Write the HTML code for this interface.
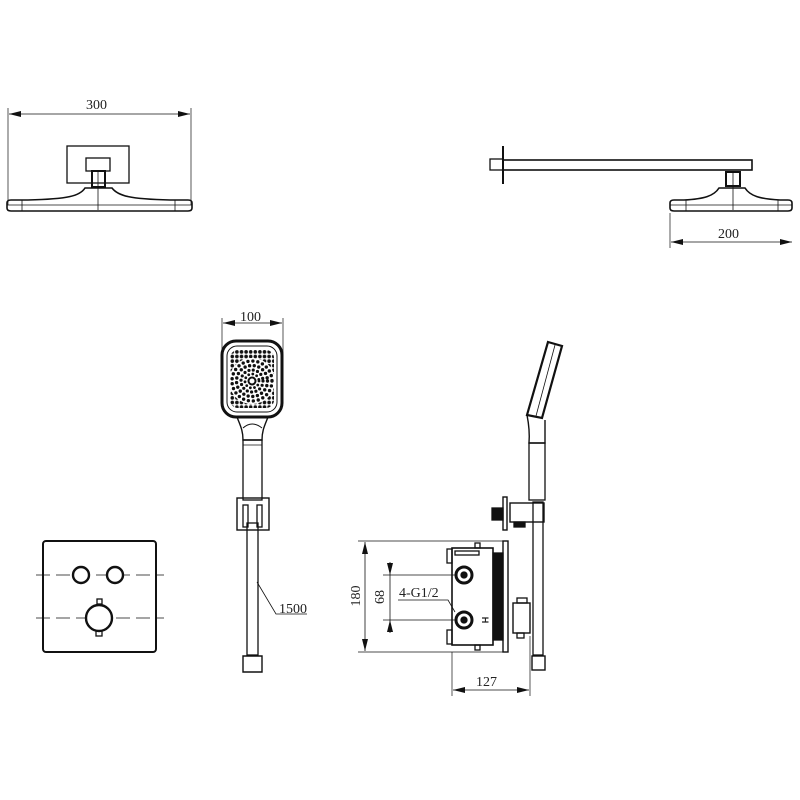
<!DOCTYPE html>
<html><head><style>html,body{margin:0;background:#fff}svg{display:block}text{font-family:"Liberation Serif",serif;font-size:14px;fill:#222}</style></head>
<body>
<svg width="800" height="800" viewBox="0 0 800 800" xmlns="http://www.w3.org/2000/svg">
<defs>
<marker id="a" markerWidth="12" markerHeight="6" refX="12" refY="3" orient="auto-start-reverse" markerUnits="userSpaceOnUse"><path d="M0,0 L12,3 L0,6z" fill="#111"/></marker>
<pattern id="p" x="0" y="0" width="4.6" height="4.6" patternUnits="userSpaceOnUse"><circle cx="2.3" cy="2.3" r="1.8" fill="#111"/></pattern>
<clipPath id="c"><rect x="230" y="350" width="44" height="58" rx="8"/></clipPath>
</defs>
<g fill="none" stroke="#111" stroke-width="1.3">
<line x1="8" y1="108" x2="8" y2="205" stroke-width="0.7"/>
<line x1="191" y1="108" x2="191" y2="205" stroke-width="0.7"/>
<line x1="9" y1="114" x2="190" y2="114" stroke-width="0.8" marker-start="url(#a)" marker-end="url(#a)"/>
<rect x="67" y="146" width="62" height="37"/>
<rect x="86" y="158" width="24" height="13"/>
<rect x="92" y="171" width="13" height="16" stroke-width="2"/>
<line x1="98" y1="171" x2="98" y2="210" stroke-width="0.8"/>
<path d="M85,188 L112,188 C118,196 130,199 170,200 L188,200 Q192,200 192,203 L192,208 Q192,211 188,211 L11,211 Q7,211 7,208 L7,203 Q7,200 11,200 L28,200 C68,199 80,196 85,188z" stroke-width="1.6"/>
<line x1="7" y1="205" x2="192" y2="205" stroke-width="0.8"/>
<line x1="22" y1="200" x2="22" y2="211" stroke-width="0.8"/>
<line x1="175" y1="200" x2="175" y2="211" stroke-width="0.8"/>
<rect x="490" y="159" width="13" height="11"/>
<line x1="503" y1="146" x2="503" y2="184" stroke-width="2"/>
<rect x="503" y="160" width="249" height="10" stroke-width="1.6"/>
<rect x="726" y="172" width="14" height="14" stroke-width="2"/>
<line x1="733" y1="172" x2="733" y2="210" stroke-width="0.8"/>
<path d="M719,188 L745,188 C750,196 760,199 780,200 L788,200 Q792,200 792,203 L792,208 Q792,211 788,211 L674,211 Q670,211 670,208 L670,203 Q670,200 674,200 L684,200 C704,199 714,196 719,188z" stroke-width="1.6"/>
<line x1="670" y1="205" x2="792" y2="205" stroke-width="0.8"/>
<line x1="686" y1="200" x2="686" y2="211" stroke-width="0.8"/>
<line x1="778" y1="200" x2="778" y2="211" stroke-width="0.8"/>
<line x1="670" y1="213" x2="670" y2="248" stroke-width="0.7"/>
<line x1="671" y1="242" x2="792" y2="242" stroke-width="0.8" marker-start="url(#a)" marker-end="url(#a)"/>
<line x1="222" y1="318" x2="222" y2="360" stroke-width="0.7"/>
<line x1="283" y1="318" x2="283" y2="360" stroke-width="0.7"/>
<line x1="223" y1="323" x2="282" y2="323" stroke-width="0.8" marker-start="url(#a)" marker-end="url(#a)"/>
<rect x="230" y="350" width="44" height="58" fill="url(#p)" stroke="none" clip-path="url(#c)"/>
<circle cx="252" cy="381" r="23" fill="#fff" stroke="none"/>
<circle cx="252" cy="381" r="20" stroke-width="3.4" stroke-linecap="round" stroke-dasharray="0 5"/>
<circle cx="252" cy="381" r="15.5" stroke-width="3.4" stroke-linecap="round" stroke-dasharray="0 4.7"/>
<circle cx="252" cy="381" r="11" stroke-width="3.2" stroke-linecap="round" stroke-dasharray="0 4.4"/>
<circle cx="252" cy="381" r="7" stroke-width="2.8" stroke-linecap="round" stroke-dasharray="0 4.2"/>
<circle cx="252" cy="381" r="3.5" stroke-width="2"/>
<rect x="222" y="341" width="60" height="76" rx="14" stroke-width="3"/>
<rect x="227" y="346" width="50" height="66" rx="10" stroke-width="1"/>
<path d="M237,417 C240,425 243,430 243,440 L262,440 C262,430 265,425 268,417" stroke-width="1.4"/>
<path d="M243,428 Q252,420 262,428" stroke-width="1"/>
<rect x="243" y="440" width="19" height="60"/>
<line x1="243" y1="445" x2="262" y2="445" stroke-width="0.8"/>
<rect x="237" y="498" width="32" height="32" stroke-width="1.4"/>
<rect x="243" y="505" width="5" height="22"/>
<rect x="257" y="505" width="5" height="22"/>
<rect x="247" y="523" width="11" height="132"/>
<path d="M243,656 L262,656 L262,672 L243,672z" stroke-width="1.4"/>
<polyline points="257,582 276,614 307,614" stroke-width="0.8"/>
<rect x="43" y="541" width="113" height="111" rx="3" stroke-width="2"/>
<line x1="36" y1="575" x2="164" y2="575" stroke-width="0.8" stroke-dasharray="14,6"/>
<line x1="36" y1="618" x2="164" y2="618" stroke-width="0.8" stroke-dasharray="14,6"/>
<circle cx="81" cy="575" r="8" stroke-width="2.4" fill="#fff"/>
<circle cx="115" cy="575" r="8" stroke-width="2.4" fill="#fff"/>
<rect x="97" y="599" width="5" height="5"/>
<rect x="96" y="631" width="6" height="5"/>
<circle cx="99" cy="618" r="13" stroke-width="2.4" fill="#fff"/>
<rect x="452" y="548" width="41" height="97" stroke-width="1.6"/>
<rect x="493" y="553" width="10" height="87" fill="#111"/>
<rect x="503" y="541" width="5" height="111" stroke-width="1.4"/>
<rect x="447" y="549" width="5" height="14"/>
<rect x="447" y="630" width="5" height="14"/>
<rect x="475" y="543" width="5" height="5"/>
<rect x="475" y="645" width="5" height="5"/>
<rect x="455" y="551" width="24" height="4"/>
<circle cx="464" cy="575" r="8" stroke-width="3"/>
<circle cx="464" cy="575" r="3" fill="#111"/>
<circle cx="464" cy="620" r="8" stroke-width="3"/>
<circle cx="464" cy="620" r="3" fill="#111"/>
<rect x="513" y="603" width="17" height="30" stroke-width="1.4"/>
<rect x="517" y="598" width="10" height="5"/>
<rect x="517" y="633" width="7" height="5"/>
<rect x="533" y="502" width="10" height="153"/>
<rect x="532" y="656" width="13" height="14" stroke-width="1.4"/>
<path d="M548,342 L562,346 L542,418 L527,415z" stroke-width="2.2"/>
<line x1="555" y1="345" x2="536" y2="416" stroke-width="0.8"/>
<path d="M527,415 Q530,430 529,443 L545,443 L545,420" stroke-width="1.4"/>
<rect x="529" y="443" width="16" height="57"/>
<rect x="510" y="503" width="34" height="19" stroke-width="1.4"/>
<rect x="503" y="497" width="4" height="33" stroke-width="1.4"/>
<rect x="492" y="508" width="11" height="12" fill="#111"/>
<rect x="514" y="522" width="11" height="5" fill="#111"/>
<line x1="358" y1="541" x2="503" y2="541" stroke-width="0.7"/>
<line x1="358" y1="652" x2="503" y2="652" stroke-width="0.7"/>
<line x1="365" y1="542" x2="365" y2="651" stroke-width="0.8" marker-start="url(#a)" marker-end="url(#a)"/>
<line x1="383" y1="575" x2="456" y2="575" stroke-width="0.7"/>
<line x1="383" y1="620" x2="456" y2="620" stroke-width="0.7"/>
<line x1="390" y1="562" x2="390" y2="575" stroke-width="0.8" marker-end="url(#a)"/>
<line x1="390" y1="633" x2="390" y2="620" stroke-width="0.8" marker-end="url(#a)"/>
<line x1="390" y1="575" x2="390" y2="620" stroke-width="0.8"/>
<polyline points="398,600 448,600 455,612" stroke-width="0.8"/>
<line x1="452" y1="652" x2="452" y2="696" stroke-width="0.7"/>
<line x1="530" y1="636" x2="530" y2="696" stroke-width="0.7"/>
<line x1="453" y1="690" x2="529" y2="690" stroke-width="0.8" marker-start="url(#a)" marker-end="url(#a)"/>
</g>
<text x="86" y="109">300</text>
<text x="718" y="238">200</text>
<text x="240" y="321">100</text>
<text x="279" y="613">1500</text>
<text x="399" y="597">4-G1/2</text>
<text x="476" y="686">127</text>
<text x="361" y="597" transform="rotate(-90 360 597)" text-anchor="middle">180</text>
<text x="385" y="598" transform="rotate(-90 384 598)" text-anchor="middle">68</text>
<text x="482" y="620" transform="rotate(90 482 620)" text-anchor="middle" style="font-family:'Liberation Sans',sans-serif;font-size:9px;font-weight:bold">H</text>
</svg>
</body></html>
